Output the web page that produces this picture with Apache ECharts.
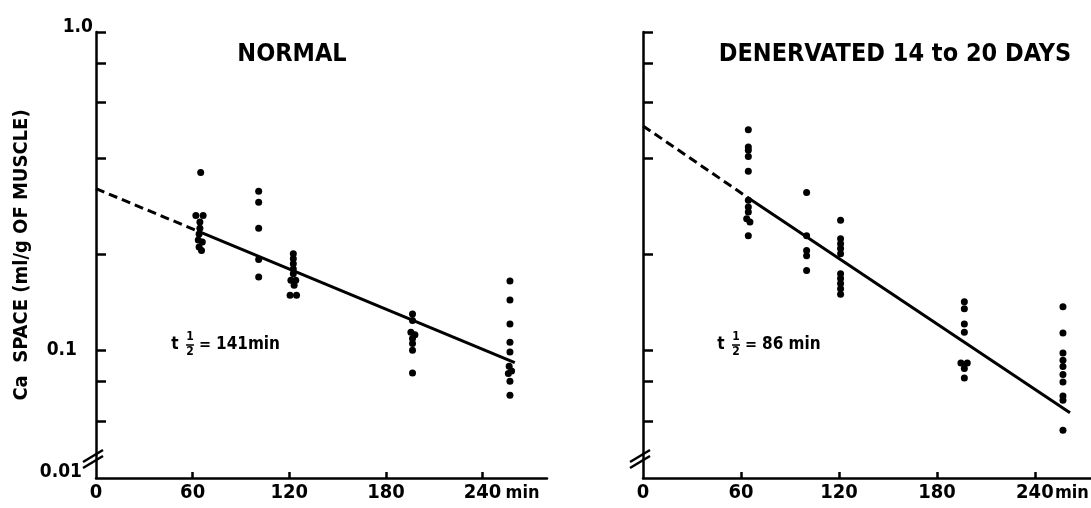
<!DOCTYPE html>
<html><head><meta charset="utf-8">
<script src="https://cdn.jsdelivr.net/npm/echarts@6/dist/echarts.min.js"></script>
<style>html,body{margin:0;padding:0;background:#fff}#c{width:1091px;height:508px}</style>
</head><body><div id="c"></div>
<script>
// ---------- data ----------
const panelTitles = ['NORMAL', 'DENERVATED 14 to 20 DAYS'];
const yAxisTitle = 'Ca  SPACE (ml/g OF MUSCLE)';
const xTickValues = [60, 120, 180, 240];
const xLabelValues = [0, 60, 120, 180, 240];
const yTickValues = [1, 0.8, 0.6, 0.4, 0.2, 0.1, 0.08, 0.06];
const yLabelValues = [1, 0.1];
const yBreakLabel = '0.01';
const xUnit = 'min';
const halfLifeTexts = ['141min', '86 min'];

const normalPoints = [
  [65, 0.362], [62, 0.265], [66.5, 0.265], [64.5, 0.253], [64.5, 0.242], [64, 0.232], [63.5, 0.222], [66, 0.219], [64, 0.211], [65.5, 0.206],
  [101, 0.316], [101, 0.292], [101, 0.242], [101, 0.193], [101, 0.170],
  [122.5, 0.201], [122.5, 0.194], [122.5, 0.187], [122.5, 0.180], [122.5, 0.174], [121, 0.166], [124, 0.166], [123, 0.160], [120.5, 0.149], [124.5, 0.149],
  [196.5, 0.130], [196.5, 0.124], [195.5, 0.114], [198, 0.112], [196.5, 0.109], [196.5, 0.105], [196.5, 0.100], [196.5, 0.0848],
  [257, 0.165], [257, 0.144], [257, 0.121], [257, 0.106], [257, 0.0988], [256.5, 0.0891], [258, 0.0861], [256, 0.0845], [257, 0.080], [257, 0.0722]
];
const denervPoints = [
  [64.5, 0.493], [64.5, 0.435], [64.5, 0.425], [64.5, 0.406], [64.5, 0.365], [64.5, 0.296], [64.5, 0.282], [64.5, 0.272], [63.5, 0.259], [65.5, 0.253], [64.5, 0.229],
  [100.2, 0.313], [100.2, 0.229], [100.2, 0.206], [100.2, 0.198], [100.2, 0.178],
  [121, 0.256], [121, 0.224], [121, 0.216], [121, 0.209], [121, 0.201], [121, 0.174], [121, 0.168], [121, 0.162], [121, 0.156], [121, 0.150],
  [196.8, 0.142], [196.8, 0.135], [196.8, 0.121], [196.8, 0.114], [194.7, 0.0912], [198.6, 0.0912], [196.8, 0.0876], [196.8, 0.0818],
  [257.2, 0.137], [257.2, 0.1133], [257.2, 0.098], [257.2, 0.093], [257.2, 0.089], [257.2, 0.084], [257.2, 0.0795], [257.2, 0.0719], [257.2, 0.0697], [257.2, 0.0561]
];
const normalFitDashed = [[0, 0.322], [64, 0.236]];
const normalFitSolid = [[64, 0.236], [260, 0.0915]];
const denervFitDashed = [[0, 0.507], [65, 0.300]];
const denervFitSolid = [[65, 0.300], [261.5, 0.0637]];

// ---------- chart ----------
const FONT = '"DejaVu Sans Condensed","Liberation Sans",sans-serif';
const INK = '#000';
const chart = echarts.init(document.getElementById('c'));

function xAxis(i, max) {
  return {
    type: 'value', gridIndex: i, min: 0, max: max,
    axisLine: { show: true, lineStyle: { color: INK, width: 2.5 } },
    axisTick: { show: true, inside: true, length: 6, customValues: xTickValues, lineStyle: { color: INK, width: 2.5 } },
    axisLabel: { customValues: xLabelValues, margin: 5, color: INK, fontFamily: FONT, fontWeight: 'bold', fontSize: 20 },
    splitLine: { show: false }
  };
}
function yAxis(i, withLabels) {
  const a = {
    type: 'log', gridIndex: i, min: 0.0397, max: 1,
    axisLine: { show: true, lineStyle: { color: INK, width: 2.5 } },
    axisTick: { show: true, inside: true, length: 10, customValues: yTickValues, lineStyle: { color: INK, width: 2.5 } },
    axisLabel: { show: withLabels, customValues: yLabelValues, margin: 3,
      formatter: v => v > 0.5 ? '{a|1.0}' : '{b|0.1}',
      rich: {
        a: { fontFamily: FONT, fontWeight: 'bold', fontSize: 19, color: INK, padding: [0, 0, 9, 0] },
        b: { fontFamily: FONT, fontWeight: 'bold', fontSize: 19, color: INK, padding: [0, 16, 0, 0] }
      }
    },
    splitLine: { show: false }, minorTick: { show: false }
  };
  if (withLabels) {
    a.name = yAxisTitle; a.nameLocation = 'middle'; a.nameRotate = 90; a.nameGap = 64;
    a.nameTextStyle = { fontFamily: FONT, fontWeight: 'bold', fontSize: 20, color: INK };
  }
  return a;
}
function scatter(i, data) {
  return { type: 'scatter', xAxisIndex: i, yAxisIndex: i, data: data, symbol: 'circle', symbolSize: 7,
    itemStyle: { color: INK, opacity: 1 }, silent: true, z: 3 };
}
function fit(i, data, dashed) {
  return { type: 'line', xAxisIndex: i, yAxisIndex: i, data: data, symbol: 'none', silent: true, z: 2,
    lineStyle: { color: INK, width: 3, type: dashed ? [9, 5] : 'solid' } };
}

chart.setOption({
  animation: false,
  backgroundColor: '#fff',
  grid: [
    { left: 96, top: 32, width: 451, height: 446 },
    { left: 643, top: 32, width: 447.4, height: 446 }
  ],
  xAxis: [xAxis(0, 280), xAxis(1, 274)],
  yAxis: [yAxis(0, true), yAxis(1, false)],
  series: [
    fit(0, normalFitDashed, true), fit(0, normalFitSolid, false), scatter(0, normalPoints),
    fit(1, denervFitDashed, true), fit(1, denervFitSolid, false), scatter(1, denervPoints)
  ]
});

// ---------- annotations ----------
function txt(x, y, s, size, align, weight) {
  return { type: 'text', silent: true, style: { x: x, y: y, text: s, fill: INK,
    font: (weight || 'bold') + ' ' + size + 'px ' + FONT, align: align || 'left', verticalAlign: 'middle' } };
}
function halfLife(x, y, s) {
  return [
    txt(x, y, 't', 17, 'center'),
    txt(x + 15, y - 8, '1', 12, 'center'),
    { type: 'line', silent: true, shape: { x1: x + 11, y1: y, x2: x + 19, y2: y }, style: { stroke: INK, lineWidth: 1.5 } },
    txt(x + 15, y + 7, '2', 12, 'center'),
    txt(x + 30, y, '=', 16, 'center'),
    txt(x + 41, y, s, 17, 'left')
  ];
}
function breakMarks(ax) {
  return [
    { type: 'line', silent: true, shape: { x1: ax - 13, y1: 462, x2: ax + 7, y2: 450 }, style: { stroke: INK, lineWidth: 2.5 } },
    { type: 'line', silent: true, shape: { x1: ax - 13, y1: 468, x2: ax + 7, y2: 456 }, style: { stroke: INK, lineWidth: 2.5 } }
  ];
}
const ax0 = chart.convertToPixel({ xAxisIndex: 0 }, 0);
const ax1 = chart.convertToPixel({ xAxisIndex: 1 }, 0);
const p240a = chart.convertToPixel({ xAxisIndex: 0 }, 240);
const p240b = chart.convertToPixel({ xAxisIndex: 1 }, 240);
const axisY = chart.convertToPixel({ yAxisIndex: 0 }, 0.0397);

const els = [].concat(
  txt(292, 54, panelTitles[0], 25, 'center'),
  txt(895, 54, panelTitles[1], 25, 'center'),
  halfLife(175, 345, halfLifeTexts[0]),
  halfLife(721, 345, halfLifeTexts[1]),
  breakMarks(ax0), breakMarks(ax1),
  txt(ax0 - 14, axisY - 6, yBreakLabel, 19, 'right'),
  txt(p240a + 23, axisY + 15, xUnit, 18, 'left'),
  txt(p240b + 20, axisY + 15, xUnit, 18, 'left')
);
chart.setOption({ graphic: { elements: els } });
</script>
</body></html>
